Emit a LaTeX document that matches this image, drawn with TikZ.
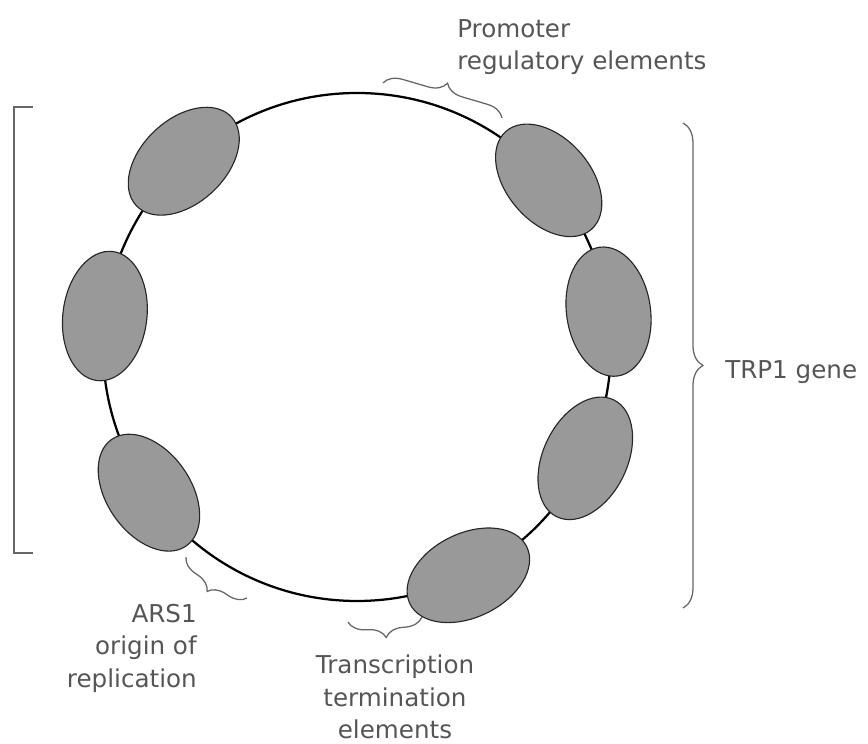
\documentclass[tikz,border=0pt]{standalone}
\usepackage{fontspec}
\setmainfont{DejaVu Sans}
\usetikzlibrary{shapes.geometric,decorations.pathreplacing}

\definecolor{segfill}{HTML}{999999}
\definecolor{labelgray}{HTML}{555555}

\tikzset{
    segment/.style={ellipse, draw=black!85, line width=0.8pt, fill=segfill,
        minimum width=3.25cm, minimum height=2.1cm, inner sep=0pt},
    curly/.style={decorate, decoration={brace, amplitude=#1},
        draw=black!60, line width=0.9pt},
    annot/.style={font=\fontsize{17.5}{23}\selectfont, text=labelgray, inner sep=0pt}
}

\begin{document}
\begin{tikzpicture}
            \useasboundingbox (-8.925,8.675) rectangle (12.775,-9.925);
            % plasmid ring
            \node[draw, circle, minimum size=12.7cm, line width=1.6pt, inner sep=0pt] (ring) at (0,0) {};
            % segments sitting on the ring
            \node[segment, rotate=43] (seg1) at (133:6.35) {};
            \node[segment, rotate=83] (seg2) at (173:6.35) {};
            \node[segment, rotate=125] (seg3) at (215:6.35) {};
            \node[segment, rotate=26] (seg4) at (296:6.35) {};
            \node[segment, rotate=64] (seg5) at (334:6.35) {};
            \node[segment, rotate=98] (seg6) at (8:6.35) {};
            \node[segment, rotate=131] (seg7) at (41:6.35) {};
            % braces
            \coordinate (promA) at (0.65,6.6);
            \coordinate (promB) at (3.625,5.725);
            \draw[curly=0.45cm] (promA) -- (promB);
            \coordinate (trpA) at (8.15,5.6);
            \coordinate (trpB) at (8.15,-6.525);
            \draw[curly=0.5cm] (trpA) -- (trpB);
            \coordinate (arsA) at (-4.275,-5.25);
            \coordinate (arsB) at (-2.75,-6.275);
            \draw[curly=0.42cm] (arsB) -- (arsA);
            \coordinate (termA) at (-0.225,-6.875);
            \coordinate (termB) at (1.625,-6.75);
            \draw[curly=0.45cm] (termB) -- (termA);
            % bracket on the left
            \draw[black!60, line width=1pt] (-8.1,6.0) -- (-8.575,6.0) -- (-8.575,-5.15) -- (-8.1,-5.15);
            % labels
            \node[annot, anchor=north west, align=left] (prom) at (2.5,8.2) {Promoter\\regulatory elements};
            \node[annot, anchor=base west] (trp) at (9.2,-0.8) {TRP1 gene};
            \node[annot, anchor=north east, align=right] (ars) at (-4.0,-6.425) {ARS1\\origin of\\replication};
            \node[annot, anchor=north, align=center] (term) at (0.95,-7.7) {Transcription\\termination\\elements};
        \end{tikzpicture}
\end{document}
